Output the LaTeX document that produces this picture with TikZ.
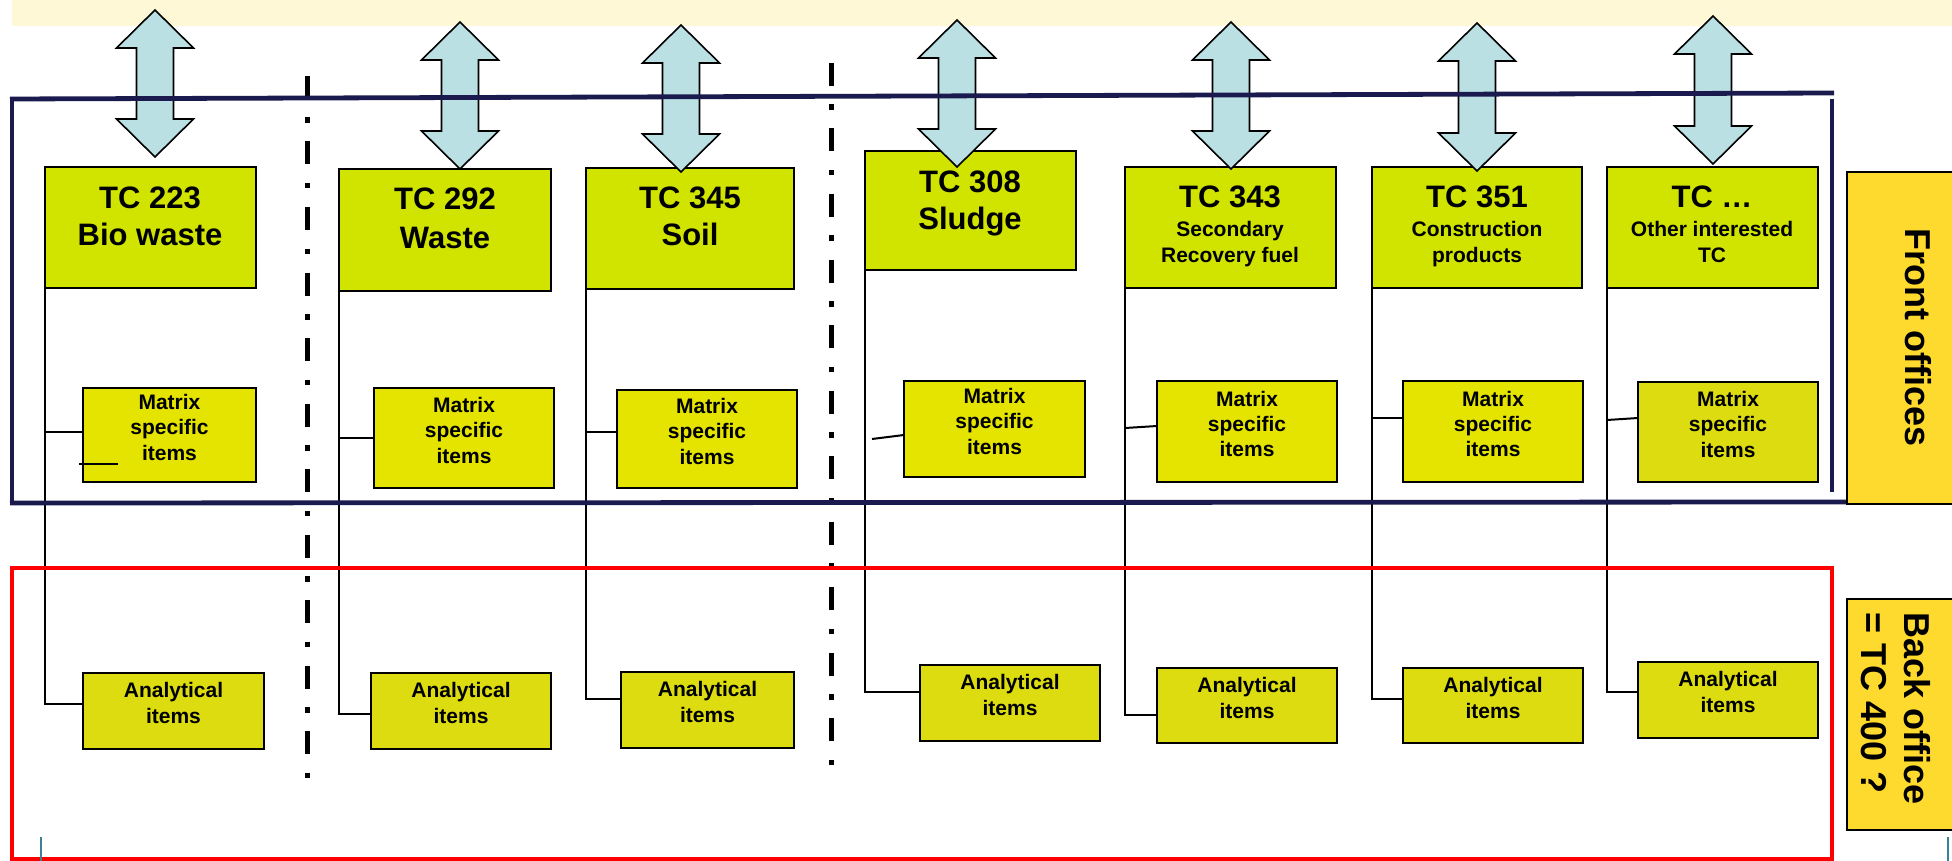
\documentclass[tikz,border=0pt]{standalone}
\usepackage{fontspec}
\setmainfont{Liberation Sans}
\usetikzlibrary{fit}
\definecolor{bandcol}{RGB}{255,248,214}
\definecolor{tcfill}{RGB}{208,228,0}
\definecolor{mfill}{RGB}{228,228,0}
\definecolor{afill}{RGB}{220,220,16}
\definecolor{arrfill}{RGB}{186,224,228}
\definecolor{navycol}{RGB}{26,26,78}
\definecolor{sidefill}{RGB}{255,218,46}
\definecolor{tickcol}{RGB}{60,130,150}
\newcommand{\rbox}[7]{%
  \path (#3,#4) coordinate (#1-nw) (#5,#6) coordinate (#1-se);
  \node[#2, fit=(#1-nw)(#1-se)] (#1) {#7};}
\newcommand{\dblarrow}[4]{%
  \path[arrowshape] (#2,#3) coordinate (#1) -- (#2+38.5,#3+38) -- (#2+18.5,#3+38)
    -- (#2+18.5,#4-38) -- (#2+38.5,#4-38) -- (#2,#4) -- (#2-38.5,#4-38)
    -- (#2-18.5,#4-38) -- (#2-18.5,#3+38) -- (#2-38.5,#3+38) -- cycle;}
\tikzset{
  boxbase/.style={draw=black, line width=1pt, inner sep=0pt, outer sep=0pt},
  tcbox/.style={boxbase, fill=tcfill},
  mbox/.style={boxbase, fill=mfill, align=center, font=\bfseries\fontsize{10.5}{12.7}\selectfont},
  mboxd/.style={boxbase, fill=afill, align=center, font=\bfseries\fontsize{10.5}{12.7}\selectfont},
  abox/.style={boxbase, fill=afill, align=center, font=\bfseries\fontsize{10.5}{13}\selectfont},
  sidebox/.style={draw=black, line width=0.8pt, fill=sidefill, inner sep=0pt, outer sep=0pt},
  tctitle/.style={anchor=base, inner sep=0pt, font=\bfseries\fontsize{15.5}{18}\selectfont},
  tcsub/.style={anchor=base, inner sep=0pt, font=\bfseries\fontsize{10.5}{13}\selectfont},
  sidetext/.style={inner sep=0pt, rotate=-90, font=\bfseries\fontsize{18}{21.5}\selectfont},
  conn/.style={draw=black, line width=1pt},
  arrowshape/.style={draw=black, fill=arrfill, line width=0.8pt, line join=miter},
  dashdotline/.style={draw=black, line width=2.5pt, dash pattern=on 11.5pt off 9.25pt on 2.75pt off 9.25pt},
  navyline/.style={draw=navycol, line width=2.4pt},
  redframe/.style={draw=red, line width=2.4pt},
  tickline/.style={draw=tickcol, line width=0.8pt}
}
\begin{document}
\begin{tikzpicture}[x=0.5pt, y=-0.5pt]
\useasboundingbox (0,0) rectangle (1952,861);
% top band
\fill[bandcol] (12,0) rectangle (1960,26);
% dash-dot separators
\coordinate (d1a) at (307,76); \coordinate (d1b) at (307,782);
\coordinate (d2a) at (831,63); \coordinate (d2b) at (831,770);
\draw[dashdotline] (d1a) -- (d1b);
\draw[dashdotline] (d2a) -- (d2b);
% TC boxes
\rbox{t1}{tcbox}{45}{167}{256}{288}{}
\rbox{t2}{tcbox}{339}{169}{551}{291}{}
\rbox{t3}{tcbox}{586}{168}{794}{289}{}
\rbox{t4}{tcbox}{865}{151}{1076}{270}{}
\rbox{t5}{tcbox}{1125}{167}{1336}{288}{}
\rbox{t6}{tcbox}{1372}{167}{1582}{288}{}
\rbox{t7}{tcbox}{1607}{167}{1818}{288}{}
% TC texts
\node[tctitle] (t1a) at (150,209) {TC 223};
\node[tctitle] (t1b) at (150,246) {Bio waste};
\node[tctitle] (t2a) at (445,210) {TC 292};
\node[tctitle] (t2b) at (445,249) {Waste};
\node[tctitle] (t3a) at (690,209) {TC 345};
\node[tctitle] (t3b) at (690,246) {Soil};
\node[tctitle] (t4a) at (970,193) {TC 308};
\node[tctitle] (t4b) at (970,229) {Sludge};
\node[tctitle] (t5a) at (1230,208) {TC 343};
\node[tcsub] (t5b) at (1230,236.5) {Secondary};
\node[tcsub] (t5c) at (1230,262.5) {Recovery fuel};
\node[tctitle] (t6a) at (1477,208) {TC 351};
\node[tcsub] (t6b) at (1477,236.5) {Construction};
\node[tcsub] (t6c) at (1477,262.5) {products};
\node[tctitle] (t7a) at (1712,208) {TC …};
\node[tcsub] (t7b) at (1712,236.5) {Other interested};
\node[tcsub] (t7c) at (1712,262.5) {TC};
% Matrix boxes
\rbox{m1}{mbox}{83}{388}{256}{482}{Matrix\\specific\\items}
\rbox{m2}{mbox}{374}{388}{554}{488}{Matrix\\specific\\items}
\rbox{m3}{mbox}{617}{390}{797}{488}{Matrix\\specific\\items}
\rbox{m4}{mbox}{904}{381}{1085}{477}{Matrix\\specific\\items}
\rbox{m5}{mbox}{1157}{381}{1337}{482}{Matrix\\specific\\items}
\rbox{m6}{mbox}{1403}{381}{1583}{482}{Matrix\\specific\\items}
\rbox{m7}{mboxd}{1638}{382}{1818}{482}{Matrix\\specific\\items}
% Analytical boxes
\rbox{a1}{abox}{83}{673}{264}{749}{Analytical\\items}
\rbox{a2}{abox}{371}{673}{551}{749}{Analytical\\items}
\rbox{a3}{abox}{621}{672}{794}{748}{Analytical\\items}
\rbox{a4}{abox}{920}{665}{1100}{741}{Analytical\\items}
\rbox{a5}{abox}{1157}{668}{1337}{743}{Analytical\\items}
\rbox{a6}{abox}{1403}{668}{1583}{743}{Analytical\\items}
\rbox{a7}{abox}{1638}{662}{1818}{738}{Analytical\\items}
% connectors
\coordinate (c1a) at (45,704);   \coordinate (c1m) at (45,432);
\coordinate (c2a) at (339,714);  \coordinate (c2m) at (339,438);
\coordinate (c3a) at (586,699);  \coordinate (c3m) at (586,432);
\coordinate (c4a) at (865,692);  \coordinate (c4m) at (872,439); \coordinate (c4e) at (0,435);
\coordinate (c5a) at (1125,715); \coordinate (c5m) at (1125,428); \coordinate (c5e) at (0,426);
\coordinate (c6a) at (1372,699); \coordinate (c6m) at (1372,418);
\coordinate (c7a) at (1607,692); \coordinate (c7m) at (1607,420); \coordinate (c7e) at (0,418);
\draw[conn] (t1.south west) -- (c1a) -- (a1.west |- c1a);
\draw[conn] (c1m) -- (m1.west |- c1m);
\coordinate (s1a) at (79,464); \coordinate (s1b) at (118,464);
\draw[conn] (s1a) -- (s1b);
\draw[conn] (t2.south west) -- (c2a) -- (a2.west |- c2a);
\draw[conn] (c2m) -- (m2.west |- c2m);
\draw[conn] (t3.south west) -- (c3a) -- (a3.west |- c3a);
\draw[conn] (c3m) -- (m3.west |- c3m);
\draw[conn] (t4.south west) -- (c4a) -- (a4.west |- c4a);
\draw[conn] (c4m) -- (m4.west |- c4e);
\draw[conn] (t5.south west) -- (c5a) -- (a5.west |- c5a);
\draw[conn] (c5m) -- (m5.west |- c5e);
\draw[conn] (t6.south west) -- (c6a) -- (a6.west |- c6a);
\draw[conn] (c6m) -- (m6.west |- c6m);
\draw[conn] (t7.south west) -- (c7a) -- (a7.west |- c7a);
\draw[conn] (c7m) -- (m7.west |- c7e);
% double arrows
\dblarrow{ar1}{155}{10}{157}
\dblarrow{ar2}{460}{22}{169}
\dblarrow{ar3}{681}{25}{172}
\dblarrow{ar4}{957}{20}{167}
\dblarrow{ar5}{1231}{22}{169}
\dblarrow{ar6}{1477}{23}{171}
\dblarrow{ar7}{1713}{16}{164}
% front office frame
\coordinate (n1) at (10,99); \coordinate (n2) at (1834,93);
\coordinate (n3) at (12,97); \coordinate (n4) at (12,503);
\coordinate (n5) at (10,503); \coordinate (n6) at (1847,502);
\coordinate (n7) at (1832,99); \coordinate (n8) at (1832,492);
\draw[navyline] (n1) -- (n2);
\draw[navyline, line width=2pt] (n3) -- (n4);
\draw[navyline] (n5) -- (n6);
\draw[navyline, line width=1.6pt] (n7) -- (n8);
% back office frame
\coordinate (r1) at (12,568); \coordinate (r2) at (1832,859);
\draw[redframe] (r1) rectangle (r2);
% side boxes
\rbox{fo}{sidebox}{1847}{172}{1962}{504}{}
\rbox{bo}{sidebox}{1847}{599}{1962}{830}{}
\node[sidetext, anchor=base west] (fot) at (1905,228) {Front offices};
\node[sidetext, anchor=north west, align=left] (bot) at (1931,612) {Back office\\= TC 400 ?};
% small ticks
\coordinate (k1a) at (41,837); \coordinate (k1b) at (41,861);
\coordinate (k2a) at (1948,837); \coordinate (k2b) at (1948,861);
\draw[tickline] (k1a) -- (k1b);
\draw[tickline] (k2a) -- (k2b);
\end{tikzpicture}
\end{document}
